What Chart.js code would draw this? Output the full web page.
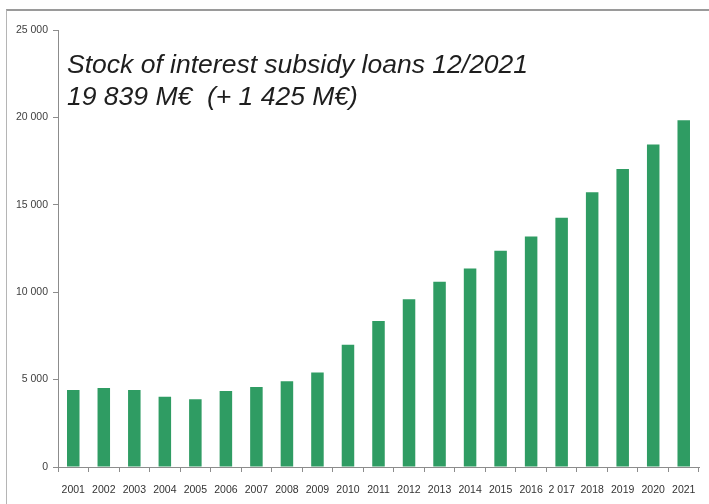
<!DOCTYPE html>
<html>
<head>
<meta charset="utf-8">
<script src="https://cdn.jsdelivr.net/npm/chart.js@4.4.1/dist/chart.umd.min.js"></script>
<style>
  html, body { margin: 0; padding: 0; background: #fff; overflow: hidden; }
  #wrap { position: relative; width: 709px; height: 504px; }
  #frame {
    position: absolute; left: 6px; top: 9px; width: 720px; height: 520px;
    border-top: 2px solid #9a9a9a; border-left: 1px solid #b5b5b5;
  }
  #chart { position: absolute; left: 0; top: 0; }
</style>
</head>
<body>
<div id="wrap">
  <div id="frame"></div>
  <canvas id="chart" width="709" height="504"></canvas>
</div>
<script>
const years = [
  "2001", "2002", "2003", "2004", "2005", "2006", "2007", "2008", "2009", "2010", "2011",
  "2012", "2013", "2014", "2015", "2016", "2 017", "2018", "2019", "2020", "2021",
];
// stock of loans, M€
const stockValues = [
  4400, 4520, 4400, 4020, 3870, 4350, 4570, 4900, 5400, 7000, 8350,
  9590, 10600, 11360, 12370, 13180, 14260, 15720, 17050, 18450, 19839,
];
const yTicks = [0, 5000, 10000, 15000, 20000, 25000];
const titleLines = ["Stock of interest subsidy loans 12/2021", "19 839 M\u20ac  (+ 1 425 M\u20ac)"];

const BAR_COLOUR = "#2f9c63";
const AXIS_COLOUR = "#8c8c8c";
const LABEL_FONT = "'Liberation Sans', Arial, sans-serif";

function formatThousands(v) {
  return v >= 1000 ? Math.floor(v / 1000) + " " + String(v % 1000).padStart(3, "0") : String(v);
}

const titlePlugin = {
  id: "titleText",
  afterDraw(chart) {
    const { ctx, chartArea } = chart;
    ctx.save();
    ctx.fillStyle = "#1e1e1e";
    ctx.font = "italic 26.5px 'Liberation Sans', Arial, sans-serif";
    ctx.textBaseline = "alphabetic";
    ctx.fillText(titleLines[0], chartArea.left + 9, chartArea.top + 43);
    ctx.fillText(titleLines[1], chartArea.left + 9, chartArea.top + 75);
    ctx.restore();
  },
};

new Chart(document.getElementById("chart").getContext("2d"), {
  type: "bar",
  data: {
    labels: years,
    datasets: [{
      data: stockValues,
      backgroundColor: BAR_COLOUR,
      borderWidth: 0,
      categoryPercentage: 1,
      barPercentage: 0.41,
    }],
  },
  options: {
    responsive: false,
    animation: false,
    layout: { padding: { top: 30, right: 10, left: 0, bottom: 0 } },
    plugins: { legend: { display: false }, tooltip: { enabled: false } },
    scales: {
      x: {
        grid: { drawOnChartArea: false, drawTicks: true, tickLength: 5, color: AXIS_COLOUR },
        border: { color: AXIS_COLOUR, width: 1 },
        ticks: {
          color: "#333",
          font: { family: LABEL_FONT, size: 10.5 },
          padding: 12,
          maxRotation: 0,
          autoSkip: false,
        },
        afterFit: (scale) => { scale.height = 37; },
      },
      y: {
        min: 0,
        max: 25000,
        afterBuildTicks: (scale) => { scale.ticks = yTicks.map((v) => ({ value: v })); },
        grid: { drawOnChartArea: false, drawTicks: true, tickLength: 5, color: AXIS_COLOUR },
        border: { color: AXIS_COLOUR, width: 1 },
        ticks: {
          color: "#404040",
          font: { family: LABEL_FONT, size: 10.5 },
          padding: 5,
          callback: (value) => formatThousands(value),
        },
        afterFit: (scale) => { scale.width = 58; },
      },
    },
  },
  plugins: [titlePlugin],
});
</script>
</body>
</html>
